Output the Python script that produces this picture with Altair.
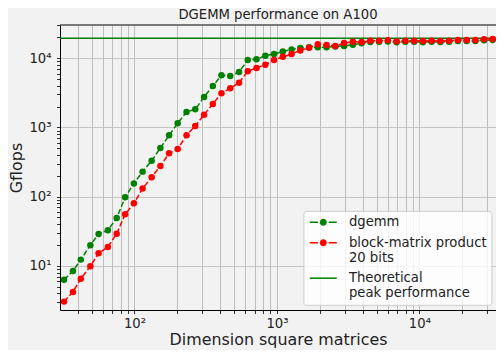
import altair as alt
import pandas as pd

# ---- data ----
sizes = [32, 37, 42, 49, 56, 65, 75, 86, 99, 114, 132, 152, 175, 201, 232, 267, 308, 355, 408, 470,
         542, 624, 719, 829, 954, 1100, 1267, 1459, 1681, 1936, 2231, 2570, 2960, 3410, 3929, 4526,
         5214, 6006, 6919, 7971, 9182, 10578, 12186, 14039, 16172, 18630, 21462, 24724, 28482, 32768]

dgemm = [6.3, 8.4, 12.3, 19.9, 28.9, 32.7, 49, 98, 155, 230, 331, 506, 770, 1150, 1680, 1830, 2760,
         3980, 5680, 5550, 6340, 9450, 9700, 10900, 11500, 12500, 13400, 14100, 14400, 14400, 14400,
         14800, 15050, 15700, 16500, 17200, 17300, 17500, 17000, 17300, 17300, 17100, 17300, 17200,
         17400, 17700, 17800, 17800, 18200, 18400]

block = [3.04, 4.2, 6.5, 9.9, 15.2, 18.7, 29.2, 55.7, 80, 131, 191, 278, 424, 489, 771, 1050, 1530,
         2190, 3120, 3680, 4440, 6490, 7240, 8080, 9450, 10500, 11500, 13000, 14200, 15900, 15570,
         15060, 16600, 17300, 17200, 17950, 17950, 18200, 17600, 17950, 17950, 17800, 17950, 17800,
         17950, 18400, 18400, 18400, 18850, 19000]

peak = [19500]

labels = ["dgemm", "block-matrix product\n20 bits", "Theoretical\npeak performance"]
label_colors = ["green", "red", "green"]

x_major = {100: "10²", 1000: "10³", 10000: "10⁴"}
y_major = {10: "10¹", 100: "10²", 1000: "10³", 10000: "10⁴"}

title = "DGEMM performance on A100"
x_title = "Dimension square matrices"
y_title = "Gflops"

# ---- styling ----
FONT = "DejaVu Sans"
TXT = "#222222"
BG = "#f2f2f2"
W, H = 436, 285

x_ticks = [m * d for d in (10, 100, 1000, 10000) for m in range(1, 10) if 40 <= m * d <= 34500]
y_ticks = [m * d for d in (1, 10, 100, 1000, 10000) for m in range(1, 10) if 3 <= m * d <= 30000]


def label_expr(mapping):
    return " : ".join(f"datum.value == {k} ? '{v}'" for k, v in mapping.items()) + " : ''"


def major_test(mapping):
    return "indexof([" + ", ".join(str(k) for k in mapping) + "], datum.value) >= 0"


xscale = alt.Scale(type="log", domain=[30, 34500])
yscale = alt.Scale(type="log", domain=[2.3, 30270])

common_axis = dict(
    domainColor="black", domainWidth=1, tickColor="black", tickWidth=0.8, tickSize=3.5,
    labelFont=FONT, labelColor=TXT,
    labelOverlap=False, labelFlush=False, labelBound=False,
    titleFont=FONT, titleFontSize=15.9, titleFontWeight="normal", titleColor=TXT,
    grid=True,
)

xaxis = alt.Axis(values=x_ticks, labelExpr=label_expr(x_major), title=x_title,
                 labelFontSize={"condition": {"test": major_test(x_major), "value": 13.2}, "value": 0},
                 gridColor="#b0b0b0", gridWidth=0.8, labelPadding=4, titlePadding=2,
                 **common_axis)
yaxis = alt.Axis(values=y_ticks, labelExpr=label_expr(y_major), title=y_title,
                 labelFontSize={"condition": {"test": major_test(y_major), "value": 13.2}, "value": 0},
                 gridColor="#c4c4c4", gridWidth=1.0, labelPadding=5.5, titlePadding=4,
                 gridOpacity={"condition": {"test": major_test(y_major), "value": 1}, "value": 0},
                 **common_axis)

X = alt.X("n:Q", scale=xscale, axis=xaxis)
Y = alt.Y("gflops:Q", scale=yscale, axis=yaxis)

df_d = pd.DataFrame({"n": sizes, "gflops": dgemm})
df_b = pd.DataFrame({"n": sizes, "gflops": block})
df_p = pd.DataFrame({"gflops": peak})

# top spine (frame line along the top of the plot area)
top_spine = alt.Chart(df_p).mark_rule(color="black", strokeWidth=1).encode(y=alt.value(0))

peak_layer = alt.Chart(df_p).mark_rule(color="green", strokeWidth=1.5).encode(y=Y)


def series(df, color):
    line = alt.Chart(df).mark_line(color=color, strokeWidth=1.5, strokeDash=[5.5, 2.4],
                                   clip=True).encode(x=X, y=Y)
    pts = alt.Chart(df).mark_circle(color=color, size=42, opacity=1).encode(x=X, y=Y)
    return [line, pts]


# legend symbols: symbol size 100 -> 5 px per unit; symbol drawn 27 px wide
h = 0.15
dash_dot = (f"M-1,-{h}H0.62V{h}H-1Z M2.78,-{h}H4.4V{h}H2.78Z "
            "M1,0A0.7,0.7 0 1,0 2.4,0A0.7,0.7 0 1,0 1,0Z")
solid = f"M-1,-{h}H4.4V{h}H-1Z"

legend_props = dict(
    title=None, orient="none", legendX=243.4, legendY=185.8,
    symbolSize=100, symbolStrokeWidth=0, symbolOpacity=1,
    labelFont=FONT, labelFontSize=13.2, labelColor=TXT, labelOffset=27.5, labelLimit=0,
    labelExpr="split(datum.label, '\\n')",
    padding=4.8, rowPadding=6.5, fillColor="rgba(255,255,255,0.8)", strokeColor="#cccccc",
    cornerRadius=3, zindex=1,
)

df_leg = pd.DataFrame({"label": labels, "n": [None] * 3, "gflops": [None] * 3})
legend_layer = alt.Chart(df_leg).mark_point(filled=True, opacity=1).encode(
    x=X, y=Y,
    color=alt.Color("label:N", scale=alt.Scale(domain=labels, range=label_colors),
                    legend=alt.Legend(**legend_props)),
    shape=alt.Shape("label:N", scale=alt.Scale(domain=labels, range=[dash_dot, dash_dot, solid]),
                    legend=alt.Legend(**legend_props)),
)

chart = alt.layer(
    peak_layer, *series(df_d, "green"), *series(df_b, "red"), top_spine, legend_layer
).properties(
    width=W, height=H,
    padding={"left": 52, "top": 17, "right": 0, "bottom": 40},
    autosize=alt.AutoSizeParams(type="none"),
    background=BG,
    title=alt.TitleParams(title, font=FONT, fontSize=13.2, fontWeight="normal", color=TXT,
                          offset=2.6, anchor="middle"),
).configure_view(fill=BG, stroke=None)

chart.save("out.html", embed_options={"renderer": "svg", "actions": False})
